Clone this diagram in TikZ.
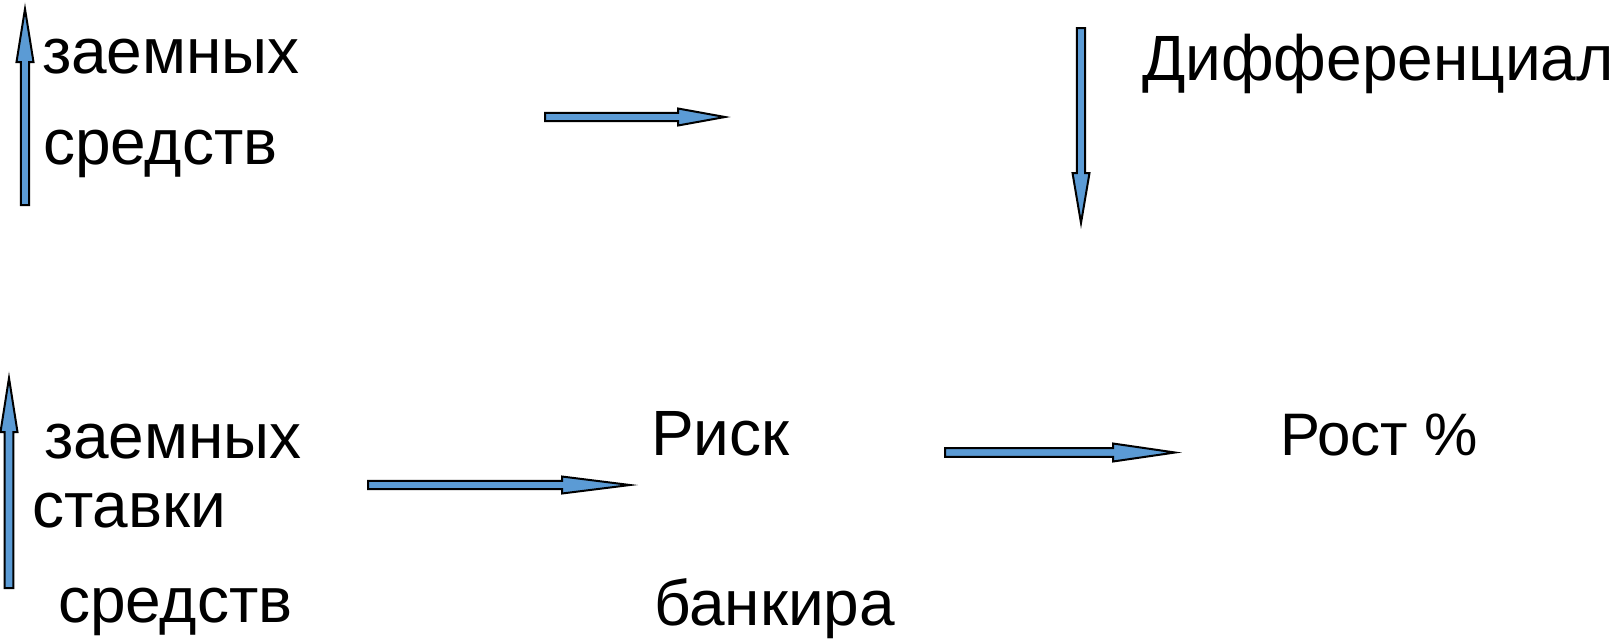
\documentclass[tikz,border=0pt]{standalone}
\usepackage{fontspec}
\setmainfont{Liberation Sans}
\usetikzlibrary{calc}
\definecolor{arrowblue}{RGB}{91,155,213}
\tikzset{
  label/.style={anchor=base west, inner sep=0pt, outer sep=0pt,
    font=\fontsize{64}{76}\selectfont},
  smalllabel/.style={label, font=\fontsize{60}{72}\selectfont},
  arrowbody/.style={fill=arrowblue, draw=black, line width=2pt, line join=miter},
}
% block arrow: #1 tail, #2 tip, #3 shaft half-width, #4 head half-width, #5 head length
\newcommand\blockarrow[5]{%
  \coordinate (ba-base) at ($(#2)!#5!(#1)$);
  \filldraw[arrowbody]
    ($(#1)!#3!90:(#2)$) -- ($(ba-base)!#3!90:(#2)$) -- ($(ba-base)!#4!90:(#2)$)
    -- (#2)
    -- ($(ba-base)!#4!-90:(#2)$) -- ($(ba-base)!#3!-90:(#2)$) -- ($(#1)!#3!-90:(#2)$)
    -- cycle;
}
\begin{document}
\begin{tikzpicture}[x=1pt, y=-1pt]
  \useasboundingbox (0,0) rectangle (1621,638);

  % labels
  \node[label] (zaem1) at (42,73) {заемных};
  \node[label] (sredst1) at (43,164) {средств};
  \node[label] (diff) at (1142,80) {Дифференциал};
  \node[label] (zaem2) at (44,458) {заемных};
  \node[label] (stavki) at (32,527) {ставки};
  \node[label] (sredst2) at (58,622) {средств};
  \node[label] (risk) at (651,455) {Риск};
  \node[label] (bank) at (654,625) {банкира};
  \node[smalllabel] (rost) at (1280,455) {Рост \%};

  % arrow end points
  \coordinate (a1t) at (25,205);   \coordinate (a1h) at (25,9);
  \coordinate (a2t) at (545,117);  \coordinate (a2h) at (725,117);
  \coordinate (a3t) at (1081,28);  \coordinate (a3h) at (1081,223);
  \coordinate (a4t) at (9,588);    \coordinate (a4h) at (9,378);
  \coordinate (a5t) at (368,485);  \coordinate (a5h) at (630,485);
  \coordinate (a6t) at (945,452.5);\coordinate (a6h) at (1175,452.5);

  \blockarrow{a1t}{a1h}{4.2pt}{8.5pt}{53pt}
  \blockarrow{a2t}{a2h}{4.2pt}{8.5pt}{47pt}
  \blockarrow{a3t}{a3h}{4.2pt}{8.5pt}{50pt}
  \blockarrow{a4t}{a4h}{4.3pt}{8.5pt}{54pt}
  \blockarrow{a5t}{a5h}{4.2pt}{8.5pt}{68pt}
  \blockarrow{a6t}{a6h}{4.3pt}{9pt}{62pt}
\end{tikzpicture}
\end{document}
